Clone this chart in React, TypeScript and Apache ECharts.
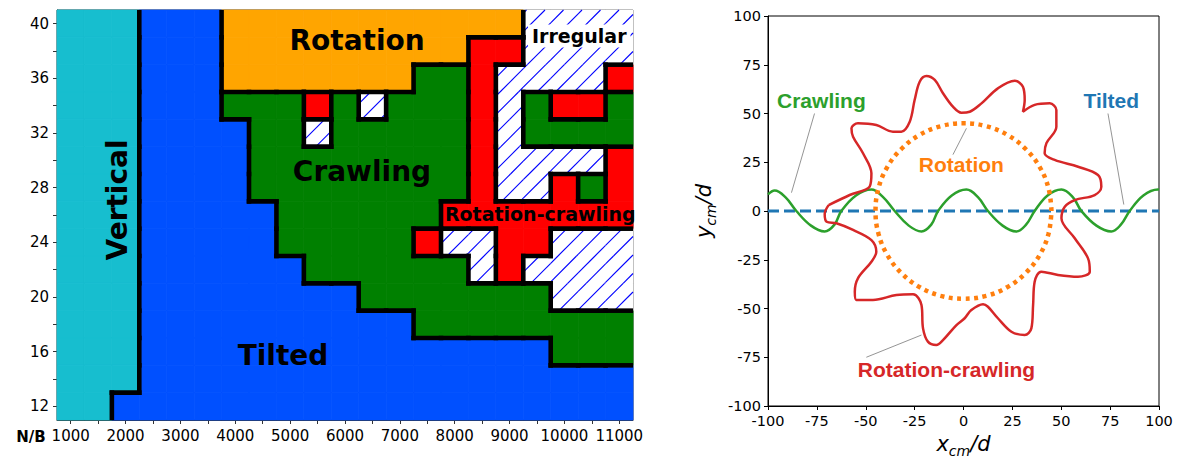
import { useEffect, useRef } from 'react';
import * as echarts from 'echarts';

// ---------- Left panel: phase diagram ----------
const nbColumns = [1000, 1500, 2000, 2500, 3000, 3500, 4000, 4500, 5000, 5500, 6000, 6500, 7000, 7500, 8000, 8500, 9000, 9500, 10000, 10500, 11000];
const rowValues = [40, 38, 36, 34, 32, 30, 28, 26, 24, 22, 20, 18, 16, 14, 12];
// V vertical, T tilted, O rotation, C crawling, X rotation-crawling, I irregular
const phaseRows = [
  'VVVTTTOOOOOOOOOOOIIII', // 40
  'VVVTTTOOOOOOOOOXXIIII', // 38
  'VVVTTTOOOOOOOCCXIIIIX', // 36
  'VVVTTTCCCXCICCCXICXXC', // 34
  'VVVTTTTCCICCCCCXICCCC', // 32
  'VVVTTTTCCCCCCCCXIIIIX', // 30
  'VVVTTTTCCCCCCCCXIIXCX', // 28
  'VVVTTTTTCCCCCCXXXXXXX', // 26
  'VVVTTTTTCCCCCXIIXXIII', // 24
  'VVVTTTTTTCCCCCCIXIIII', // 22
  'VVVTTTTTTTTCCCCCCCIII', // 20
  'VVVTTTTTTTTTTCCCCCCCC', // 18
  'VVVTTTTTTTTTTTTTTTCCC', // 16
  'VVVTTTTTTTTTTTTTTTTTT', // 14
  'VVTTTTTTTTTTTTTTTTTTT', // 12
];
const phaseCodes = ['V', 'T', 'O', 'C', 'X', 'I'];
const phaseColors = ['#17becf', '#0050ff', '#ffa500', '#008000', '#ff0000', '#ffffff'];

const xTickValues = nbColumns;
const xLabelValues = [1000, 2000, 3000, 4000, 5000, 6000, 7000, 8000, 9000, 10000, 11000];
const yTickValues = [12, 14, 16, 18, 20, 22, 24, 26, 28, 30, 32, 34, 36, 38, 40];
const yLabelValues = [12, 16, 20, 24, 28, 32, 36, 40];

const phaseLabelNames = ['Vertical', 'Rotation', 'Irregular', 'Crawling', 'Rotation-crawling', 'Tilted'];
const phaseLabelNb = [1860, 6220, 10270, 6310, 9560, 4870];
const phaseLabelY = [27.1, 38.75, 39.1, 29.15, 26.1, 15.7];

// ---------- Right panel: trajectories ----------
const tiltedPath = [[-100, 0], [100, 0]];
const crawlingPath = [
  [-100, 8.5], [-96.6, 10.5], [-91, 7], [-85.5, 0], [-78, -7.5], [-71, -10.5], [-66, -7], [-62.5, 0],
  [-55, 8], [-47.1, 11], [-41, 7], [-35.2, 0], [-28, -7.5], [-21.5, -10.5], [-16.5, -7], [-13, 0],
  [-6, 8], [1.5, 11], [7.5, 7], [12.5, 0], [20, -7.5], [27, -10.5], [32, -7], [36.4, 0],
  [43, 8], [50.1, 11], [56, 7], [60.3, 0], [68, -7.5], [75.6, -10.5], [80.5, -7], [85, 0],
  [92, 8], [99.5, 11], [100, 10.9],
];
const rotationPath = [
  [45, 0], [43.5, 11.6], [39, 22.5], [31.8, 31.8], [22.5, 39], [11.6, 43.5], [0, 45], [-11.6, 43.5],
  [-22.5, 39], [-31.8, 31.8], [-39, 22.5], [-43.5, 11.6], [-45, 0], [-43.5, -11.6], [-39, -22.5],
  [-31.8, -31.8], [-22.5, -39], [-11.6, -43.5], [0, -45], [11.6, -43.5], [22.5, -39], [31.8, -31.8],
  [39, -22.5], [43.5, -11.6], [45, 0],
];
const rotCrawlPath = [
  [-69, 3], [-58.2, 8.2], [-48, 12.5], [-47.1, 19.3], [-51.4, 29.6], [-56.5, 38.1], [-57.3, 42.4],
  [-54, 45], [-44.6, 44.1], [-36.1, 40.7], [-31.8, 40.7], [-27.5, 45.8], [-25, 56.9], [-22.4, 66.3],
  [-19, 69.2], [-14.7, 67.2], [-10.5, 60.4], [-5.4, 53.5], [-1.1, 50.4], [3.2, 50.9], [9.2, 55.2],
  [17.6, 62.9], [26.2, 66.8], [30.4, 63.7], [31.3, 56.9], [30.4, 50.9], [36.4, 54.4], [44.1, 55.2],
  [47.5, 51.8], [47.5, 43.2], [42.4, 34.7], [41.5, 29.6], [46.6, 26.2], [58.6, 22.7], [68.8, 18.5],
  [70.5, 12.5], [67.1, 8.2], [56.9, 5.6], [51.8, 2.2], [50.1, -3.7], [56.9, -14], [63.7, -24.3],
  [64.6, -31.1], [58.6, -33.7], [48.3, -32.8], [39.8, -31.1], [36.4, -36.3], [35.6, -48.2],
  [34.7, -60.2], [31.3, -63.6], [24.5, -61.9], [17.6, -55], [12.5, -49.1], [10, -47.8], [4, -50.8],
  [0.6, -55], [-3.6, -58.5], [-10.5, -66.2], [-13.9, -68.7], [-18.2, -67], [-20.7, -60.2],
  [-21.5, -48.2], [-25.8, -42.7], [-34.3, -43.1], [-46.3, -45.6], [-54.8, -45.6], [-55.6, -41.4],
  [-54, -34.5], [-47.1, -26], [-44.6, -20.9], [-47.1, -14.9], [-56.5, -9.7], [-65, -6.3],
  [-70, -5.5], [-71, -1.5], [-69, 3],
];
const annotationNames = ['Crawling', 'Tilted', 'Rotation', 'Rotation-crawling'];
const annotationColors = ['#2ca02c', '#1f77b4', '#ff7f0e', '#d62728'];
const annotationTextPos = [[-72.7, 56.9], [75.6, 56.9], [-1.1, 23.6], [-8.7, -81.5]];
const annotationLeaders = [
  [[-76.2, 50], [-88, 9.4]],
  [[73.9, 50], [82, 3.3]],
  [[1.5, 42.4], [-5.4, 28.9]],
  [[-49.7, -75], [-21.5, -63.6]],
];

const tickFont = { fontFamily: 'DejaVu Sans', fontSize: 15, color: '#000' };

function buildOption(): any {
  const cellData: number[][] = [];
  rowValues.forEach((yv, r) => {
    nbColumns.forEach((nb, c) => {
      cellData.push([nb, yv, r, c]);
    });
  });

  const renderCell = (_params: any, api: any) => {
    const nb = api.value(0) as number;
    const yv = api.value(1) as number;
    const r = api.value(2) as number;
    const c = api.value(3) as number;
    const code = phaseRows[r][c];
    const color = phaseColors[phaseCodes.indexOf(code)];
    const tl = api.coord([nb - 250, yv + 1]);
    const br = api.coord([nb + 250, yv - 1]);
    const pTL = api.coord([750, 41]);
    const pBR = api.coord([11250, 11]);
    const x0 = tl[0], y0 = tl[1], x1 = br[0], y1 = br[1];
    const children: any[] = [
      {
        type: 'rect',
        shape: { x: x0, y: y0, width: x1 - x0, height: y1 - y0 },
        style: { fill: color, stroke: color, lineWidth: 0.8 },
        z2: 0,
      },
    ];
    if (code === 'I') {
      const step = 18.5;
      const kStart = Math.ceil((x0 + y0) / step);
      const kEnd = Math.floor((x1 + y1) / step);
      for (let k = kStart; k <= kEnd; k++) {
        const cc = k * step;
        const lo = Math.max(x0, cc - y1);
        const hi = Math.min(x1, cc - y0);
        if (hi - lo > 0.5) {
          children.push({
            type: 'line',
            shape: { x1: lo, y1: cc - lo, x2: hi, y2: cc - hi },
            style: { stroke: '#0000ff', lineWidth: 1.1 },
            z2: 1,
          });
        }
      }
    }
    const hw = 2.3;
    if (c + 1 < nbColumns.length && phaseRows[r][c + 1] !== code) {
      children.push({
        type: 'line',
        shape: { x1: x1, y1: Math.max(y0 - hw, pTL[1]), x2: x1, y2: Math.min(y1 + hw, pBR[1]) },
        style: { stroke: '#000', lineWidth: 4.6 },
        z2: 10,
      });
    }
    if (r > 0 && phaseRows[r - 1][c] !== code) {
      children.push({
        type: 'line',
        shape: { x1: Math.max(x0 - hw, pTL[0]), y1: y0, x2: Math.min(x1 + hw, pBR[0]), y2: y0 },
        style: { stroke: '#000', lineWidth: 4.6 },
        z2: 10,
      });
    }
    return { type: 'group', children };
  };

  const leftLabels = phaseLabelNames.map((name, i) => {
    const big = name === 'Irregular' || name === 'Rotation-crawling' ? 19 : 28;
    return {
      name,
      value: [phaseLabelNb[i], phaseLabelY[i]],
      label: {
        show: true,
        position: 'inside',
        formatter: name,
        fontFamily: 'DejaVu Sans',
        fontWeight: 'bold',
        fontSize: big,
        color: '#000',
        opacity: 1,
        rotate: name === 'Vertical' ? 90 : 0,
        backgroundColor: name === 'Irregular' ? '#fff' : 'transparent',
        padding: name === 'Irregular' ? [2, 4] : 0,
      },
    };
  });

  const rightLabels = annotationNames.map((name, i) => ({
    name,
    value: annotationTextPos[i],
    label: {
      show: true,
      position: 'inside',
      formatter: name,
      fontFamily: 'Liberation Sans',
      fontWeight: 'bold',
      fontSize: 21,
      color: annotationColors[i],
      opacity: 1,
    },
  }));

  const nameRich = {
    i: { fontFamily: 'DejaVu Sans', fontStyle: 'italic', fontSize: 21, color: '#000', verticalAlign: 'bottom', padding: [0, 0, 4, 0] },
    s: { fontFamily: 'DejaVu Sans', fontStyle: 'italic', fontSize: 14, color: '#000', verticalAlign: 'bottom' },
  };

  const lineBase = { type: 'line', xAxisIndex: 1, yAxisIndex: 1, symbol: 'none', silent: true };

  return {
    animation: false,
    grid: [
      { left: 57, top: 10, width: 576, height: 410, show: true, borderColor: '#333', borderWidth: 1, backgroundColor: 'transparent', outerBoundsMode: 'none', containLabel: false },
      { left: 768, top: 16, width: 391, height: 390, show: true, borderColor: '#000', borderWidth: 1, backgroundColor: 'transparent', outerBoundsMode: 'none', containLabel: false },
    ],
    xAxis: [
      {
        type: 'value', gridIndex: 0, min: 750, max: 11250,
        name: 'N/B', nameLocation: 'start', nameGap: 10,
        nameTextStyle: { fontFamily: 'DejaVu Sans', fontWeight: 'bold', fontSize: 15, color: '#000', verticalAlign: 'top', padding: [9, 0, 0, 0] },
        axisLine: { show: true, onZero: false, lineStyle: { color: '#333', width: 1 } },
        axisTick: { show: true, length: 4, lineStyle: { color: '#333' }, customValues: xTickValues },
        axisLabel: { ...tickFont, margin: 8, customValues: xLabelValues, formatter: (v: number) => String(v) },
        splitLine: { show: false },
      },
      {
        type: 'value', gridIndex: 1, min: -100, max: 100, interval: 25,
        name: '{i|x}{s|cm}{i|/d}', nameLocation: 'middle', nameGap: 27,
        nameTextStyle: { rich: nameRich },
        axisLine: { show: true, onZero: false, lineStyle: { color: '#000', width: 1 } },
        axisTick: { show: true, length: 4, lineStyle: { color: '#000' } },
        axisLabel: { ...tickFont, fontSize: 14.5, margin: 7, formatter: (v: number) => String(v) },
        splitLine: { show: false },
      },
    ],
    yAxis: [
      {
        type: 'value', gridIndex: 0, min: 11, max: 41,
        axisLine: { show: true, onZero: false, lineStyle: { color: '#333', width: 1 } },
        axisTick: { show: true, length: 4, lineStyle: { color: '#333' }, customValues: yTickValues },
        axisLabel: { ...tickFont, margin: 8, customValues: yLabelValues, formatter: (v: number) => String(v) },
        splitLine: { show: false },
      },
      {
        type: 'value', gridIndex: 1, min: -100, max: 100, interval: 25,
        name: '{i|y}{s|cm}{i|/d}', nameLocation: 'middle', nameGap: 50,
        nameTextStyle: { rich: nameRich },
        axisLine: { show: true, onZero: false, lineStyle: { color: '#000', width: 1 } },
        axisTick: { show: true, length: 4, lineStyle: { color: '#000' } },
        axisLabel: { ...tickFont, fontSize: 14.5, margin: 7, formatter: (v: number) => String(v) },
        splitLine: { show: false },
      },
    ],
    series: [
      {
        type: 'custom',
        xAxisIndex: 0,
        yAxisIndex: 0,
        renderItem: renderCell,
        data: cellData,
        silent: true,
        z: 2,
      },
      {
        type: 'scatter',
        xAxisIndex: 0,
        yAxisIndex: 0,
        symbolSize: 1,
        itemStyle: { color: 'rgba(0,0,0,0)', opacity: 1 },
        data: leftLabels,
        silent: true,
        z: 6,
      },
      { ...lineBase, data: tiltedPath, lineStyle: { color: '#1f77b4', width: 3, type: [11, 5] }, z: 3 },
      { ...lineBase, data: crawlingPath, smooth: 0.4, lineStyle: { color: '#2ca02c', width: 2.5 }, z: 3 },
      { ...lineBase, data: rotCrawlPath, smooth: 0.35, lineStyle: { color: '#d62728', width: 2.5 }, z: 3 },
      { ...lineBase, data: rotationPath, smooth: 0.4, lineStyle: { color: '#ff7f0e', width: 4.5, type: [4, 4.5], cap: 'butt' }, z: 4 },
      ...annotationLeaders.map((seg) => ({ ...lineBase, data: seg, lineStyle: { color: '#888', width: 0.9 }, z: 4 })),
      {
        type: 'scatter',
        xAxisIndex: 1,
        yAxisIndex: 1,
        symbolSize: 1,
        itemStyle: { color: 'rgba(0,0,0,0)', opacity: 1 },
        data: rightLabels,
        silent: true,
        z: 6,
      },
    ],
  };
}

export default function App() {
  const ref = useRef<HTMLDivElement>(null);
  useEffect(() => {
    if (!ref.current) return;
    const chart = echarts.init(ref.current, undefined, { renderer: 'svg' });
    chart.setOption(buildOption());
    return () => chart.dispose();
  }, []);
  return (
    <div
      ref={ref}
      style={{ position: 'absolute', left: 0, top: 0, width: 1181, height: 459, background: '#fff' }}
    />
  );
}
